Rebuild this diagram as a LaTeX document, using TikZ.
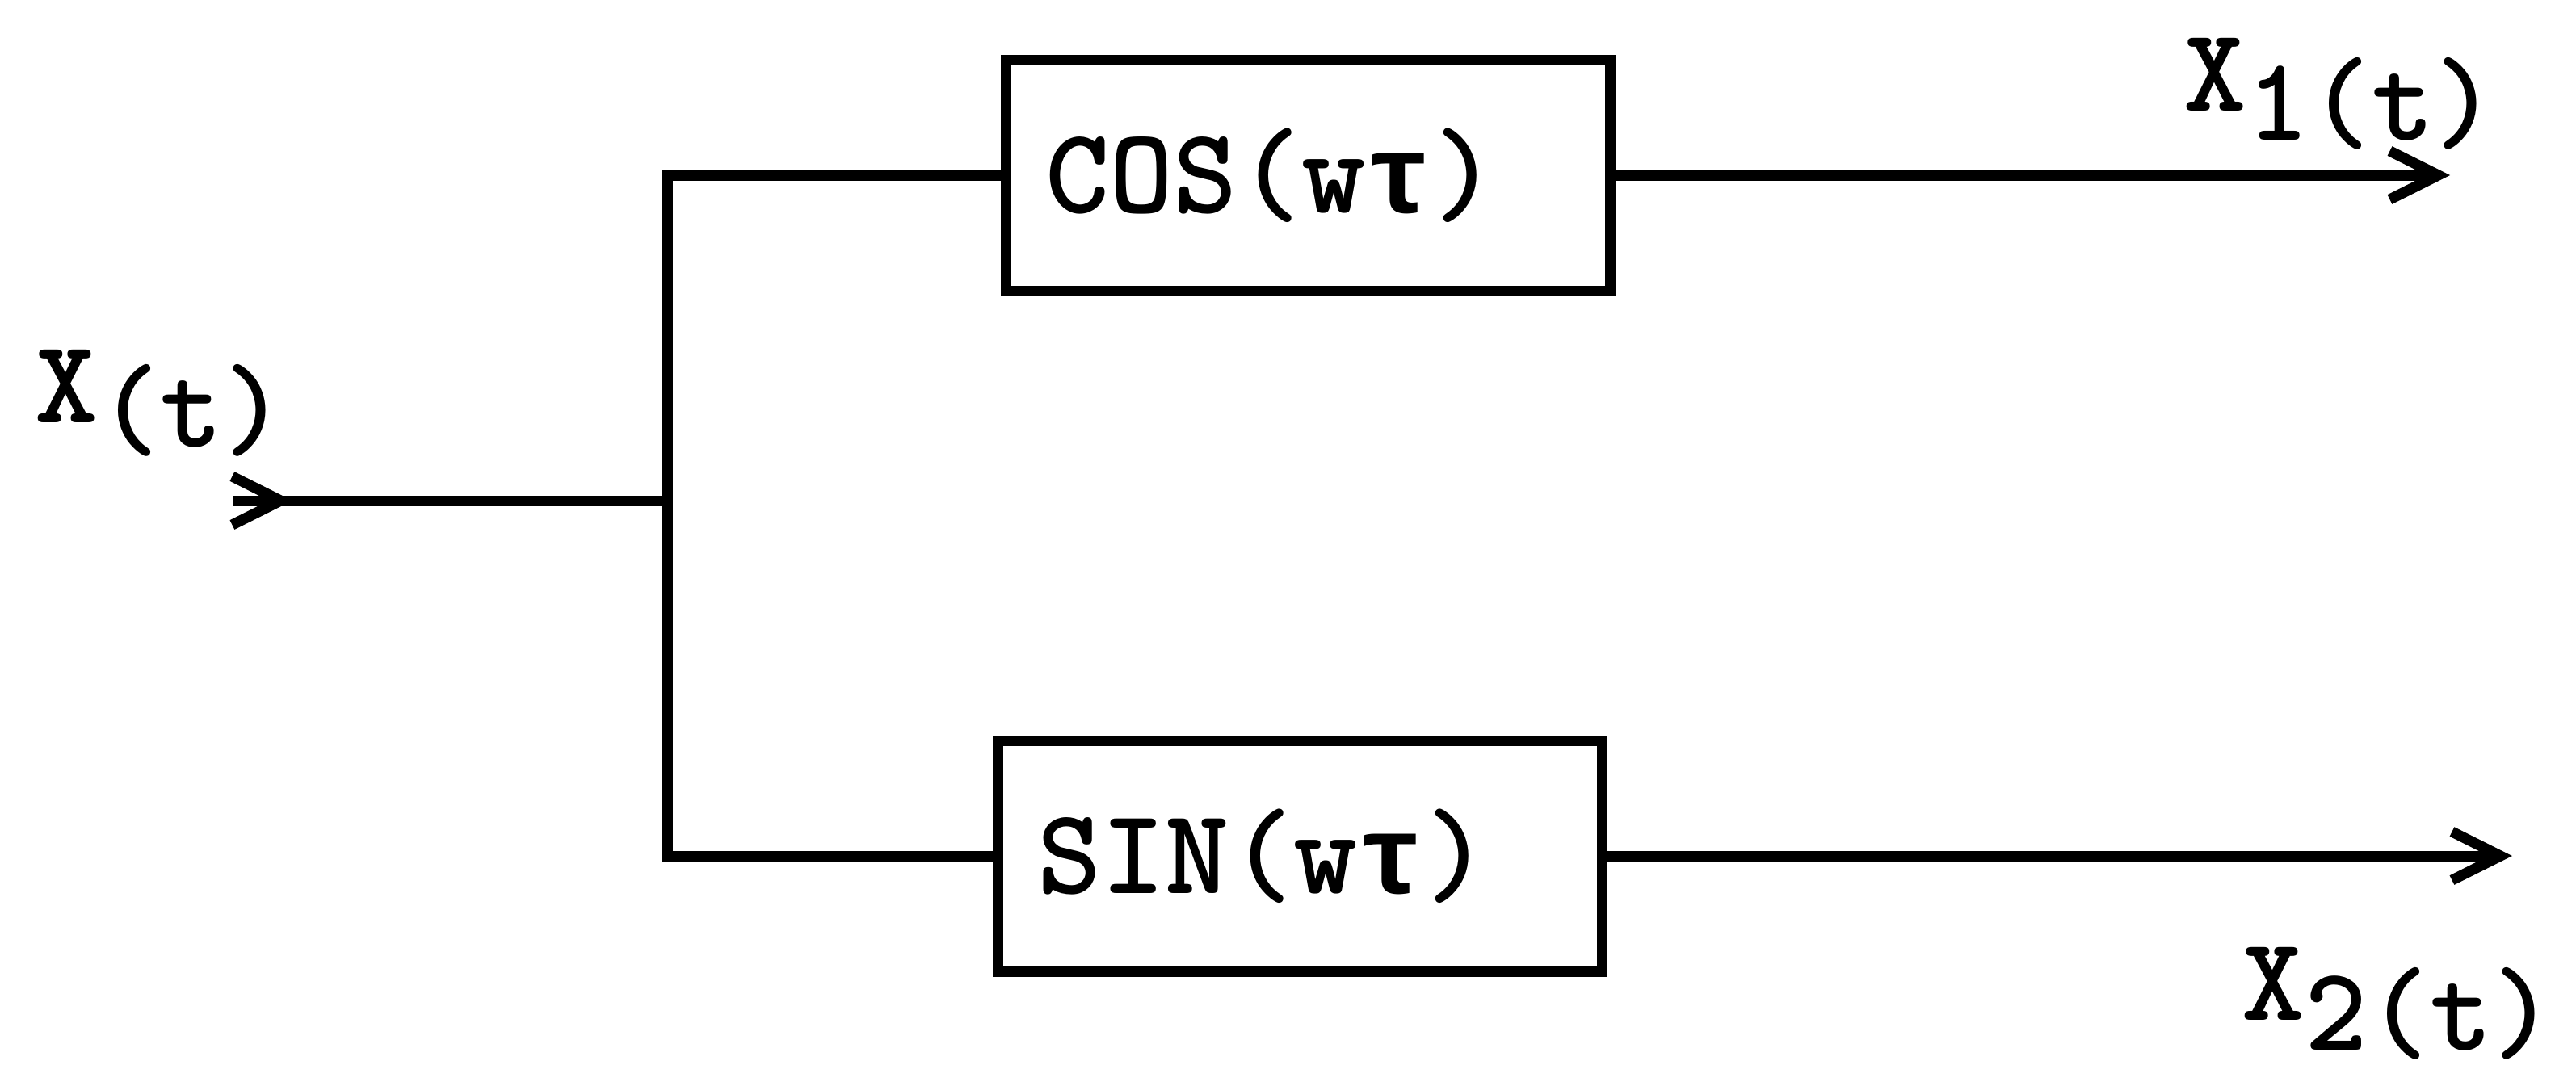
\documentclass[tikz,border=0pt]{standalone}
\usepackage{fontspec}
\usepackage{tikz}
\usetikzlibrary{arrows.meta}

\newfontfamily\taufont{Liberation Mono}[Scale=0.92]

\tikzset{
  sig/.style={line width=3.7pt},
  tip/.style={-{Straight Barb[length=6mm,width=6mm]}},
  blk/.style={draw, line width=3.7pt, minimum width=7.48cm, minimum height=2.86cm,
    text width=6.5cm, inner xsep=0.49cm, align=left,
    font=\fontsize{43}{48}\selectfont\ttfamily\bfseries},
  lbl/.style={inner sep=0pt, anchor=base west,
    font=\fontsize{42}{48}\selectfont\ttfamily\bfseries}
}

\begin{document}
\begin{tikzpicture}
\useasboundingbox (0,0) rectangle (31.89,-13.44);
% the two blocks
\node[blk] (cos) at (16.19,-2.17) {COS(w{\taufont τ})};
\node[blk] (sin) at (16.09,-10.60) {SIN(w{\taufont τ})};
% input and split point
\coordinate (xin) at (2.88,-6.20);
\coordinate (xtip) at (3.62,-6.20);
\coordinate (split) at (8.26,-6.20);
\draw[sig] (xin) -- (split);
\draw[sig, tip] (xin) -- (xtip);
\draw[sig] (cos.west) -| (split) |- (sin.west);
% outputs
\coordinate (out1) at (30.33,-2.17);
\coordinate (out2) at (31.10,-10.60);
\draw[sig, tip] (cos.east) -- (out1);
\draw[sig, tip] (sin.east) -- (out2);
% labels
\node[lbl] (xlbl) at (0.43,-5.23) {X\raisebox{-0.30cm}{(t)}};
\node[lbl] (x1lbl) at (27.03,-1.37) {X\raisebox{-0.36cm}{1(t)}};
\node[lbl] (x2lbl) at (27.75,-12.63) {X\raisebox{-0.37cm}{2(t)}};
\end{tikzpicture}
\end{document}
